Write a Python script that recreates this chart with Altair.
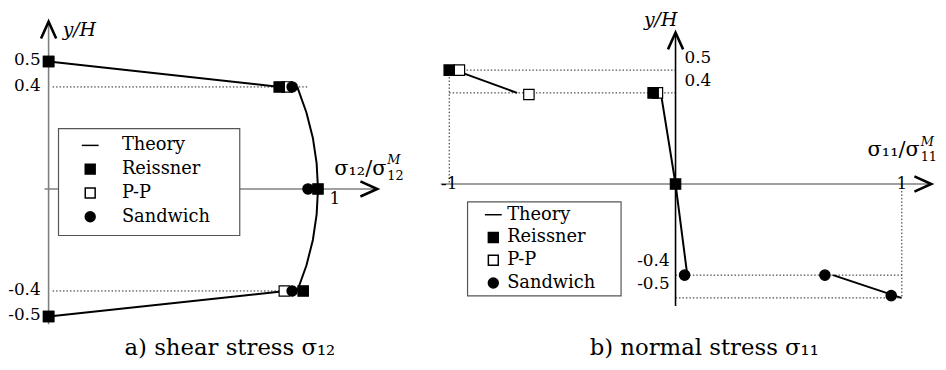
import altair as alt
import pandas as pd

FONT = "DejaVu Serif"

# ---------------- shared legend categories ----------------
methods = ["Theory", "Reissner", "P-P", "Sandwich"]
shape_range = ["M -1.7 0 L 1.7 0", "square", "square", "circle"]
fill_range = ["black", "black", "white", "black"]
stroke_range = ["black", "black", "black", "black"]

# ---------------- a) shear stress ----------------
a_theory_seg = ["top", "top",
                "core", "core", "core", "core", "core", "core", "core", "core", "core",
                "bottom", "bottom"]
a_theory_x = [0.0, 0.86, 0.923, 0.957, 0.981, 0.995, 1.0, 0.995, 0.981, 0.957, 0.923, 0.88, 0.0]
a_theory_y = [0.5, 0.4, 0.4, 0.3, 0.2, 0.1, 0.0, -0.1, -0.2, -0.3, -0.4, -0.4, -0.5]

a_pts_method = ["P-P", "P-P", "P-P", "P-P",
                "Reissner", "Reissner", "Reissner", "Reissner", "Reissner",
                "Sandwich", "Sandwich", "Sandwich"]
a_pts_x = [0.0, 0.885, 0.875, 0.0,
           0.0, 0.856, 1.0, 0.945, 0.0,
           0.904, 0.963, 0.904]
a_pts_y = [0.5, 0.4, -0.4, -0.5,
           0.5, 0.4, 0.0, -0.4, -0.5,
           0.4, 0.0, -0.4]

a_guide_x1 = [0.015, 0.015]
a_guide_x2 = [0.96, 0.9]
a_guide_y1 = [0.4, -0.4]
a_guide_y2 = [0.4, -0.4]

a_ytick_vals = [0.5, 0.4, -0.4, -0.5]
a_ytick_text = ["0.5", "0.4", "-0.4", "-0.5"]
a_xtick_vals = [1.0]
a_xtick_text = ["1"]

a_xaxis = [-0.015, 1.21]
a_yaxis = [-0.53, 0.645]
a_arrow_x_tip = 1.22
a_arrow_y_tip = 0.656

# ---------------- b) normal stress ----------------
b_theory_seg = ["top", "top", "core", "core", "core", "bottom", "bottom"]
b_theory_x = [-0.976, -0.70, -0.065, 0.0, 0.052, 0.696, 0.998]
b_theory_y = [0.5, 0.4, 0.4, 0.0, -0.4, -0.4, -0.5]

b_pts_method = ["P-P", "P-P", "P-P",
                "Reissner", "Reissner", "Reissner",
                "Sandwich", "Sandwich", "Sandwich"]
b_pts_x = [-0.955, -0.648, -0.08,
           -1.0, -0.099, 0.0,
           0.04, 0.66, 0.953]
b_pts_y = [0.5, 0.393, 0.4,
           0.5, 0.4, 0.0,
           -0.4, -0.4, -0.49]

b_guide_x1 = [-1.0, -1.0, 0.0, 0.0, -1.0, 1.0]
b_guide_x2 = [0.0, 0.0, 1.0, 1.0, -1.0, 1.0]
b_guide_y1 = [0.5, 0.4, -0.4, -0.5, 0.5, 0.0]
b_guide_y2 = [0.5, 0.4, -0.4, -0.5, 0.0, -0.5]

b_ytick_up_vals = [0.5, 0.4]
b_ytick_up_text = ["0.5", "0.4"]
b_ytick_dn_vals = [-0.4, -0.5]
b_ytick_dn_text = ["-0.4", "-0.5"]
b_xtick_vals = [-1.0, 1.0]
b_xtick_text = ["-1", "1"]

b_xaxis = [-1.037, 1.12]
b_yaxis = [-0.535, 0.655]
b_arrow_x_tip = 1.13
b_arrow_y_tip = 0.665

ARROW_RIGHT = "M -1 -0.45 L 0 0 L -1 0.45"
ARROW_UP = "M -0.45 1 L 0 0 L 0.45 1"


def make_legend(lx, ly, pad, sym_off, lab_off, row_pad):
    return alt.Legend(
        orient="none", legendX=lx, legendY=ly, title=None, padding=pad,
        symbolOffset=sym_off, labelOffset=lab_off, rowPadding=row_pad,
        labelFont=FONT, labelFontSize=18, labelColor="black",
        symbolSize=100, symbolStrokeColor="black", symbolStrokeWidth=1.5,
    )


def build_panel(W, H, xdom, ydom, theory, pts, guides, xaxis, yaxis, ycol,
                arrow_x, arrow_y, legend, box, texts, caption, cap_x):
    xs = alt.Scale(domain=xdom, nice=False, zero=False)
    ys = alt.Scale(domain=ydom, nice=False, zero=False)

    def X(f):
        return alt.X(f, type="quantitative", scale=xs, axis=None)

    def Y(f):
        return alt.Y(f, type="quantitative", scale=ys, axis=None)

    one = pd.DataFrame({"k": [0]})
    layers = []
    # dotted guides
    layers.append(alt.Chart(guides).mark_rule(color="#222222", strokeWidth=1, strokeDash=[1.5, 2]).encode(
        x=X("x1"), x2="x2", y=Y("y1"), y2="y2"))
    # axes
    ax_df = pd.DataFrame({"x1": [xaxis[0]], "x2": [xaxis[1]], "y1": [0.0], "y2": [0.0]})
    layers.append(alt.Chart(ax_df).mark_rule(color="#808080", strokeWidth=1.6).encode(
        x=X("x1"), x2="x2", y=Y("y1"), y2="y2"))
    ay_df = pd.DataFrame({"x1": [0.0], "x2": [0.0], "y1": [yaxis[0]], "y2": [yaxis[1]]})
    layers.append(alt.Chart(ay_df).mark_rule(color=ycol, strokeWidth=1.6).encode(
        x=X("x1"), x2="x2", y=Y("y1"), y2="y2"))
    # legend frame (white box covering the axis)
    layers.append(alt.Chart(one).mark_rect(fill="white", stroke="#555555", strokeWidth=1.2).encode(
        x=alt.value(box[0]), x2=alt.value(box[1]), y=alt.value(box[2]), y2=alt.value(box[3])))
    # arrow heads
    layers.append(alt.Chart(pd.DataFrame({"x": [arrow_x], "y": [0.0]})).mark_point(
        shape=ARROW_RIGHT, filled=False, stroke="black", strokeWidth=2.6, size=1156, opacity=1,
        strokeJoin="miter").encode(x=X("x"), y=Y("y")))
    layers.append(alt.Chart(pd.DataFrame({"x": [0.0], "y": [arrow_y]})).mark_point(
        shape=ARROW_UP, filled=False, stroke="black", strokeWidth=2.6, size=1156, opacity=1,
        strokeJoin="miter").encode(x=X("x"), y=Y("y")))
    # theory lines
    layers.append(alt.Chart(theory).mark_line(color="black", strokeWidth=2).encode(
        x=X("x"), y=Y("y"), detail="seg:N", order="ord:Q"))
    # markers
    layers.append(alt.Chart(pts).mark_point(filled=True, stroke="black", strokeWidth=1.2,
                                            size=110, opacity=1).encode(
        x=X("x"), y=Y("y"),
        shape=alt.Shape("method:N", scale=alt.Scale(domain=methods, range=shape_range), legend=legend),
        fill=alt.Fill("method:N", scale=alt.Scale(domain=methods, range=fill_range), legend=legend),
        stroke=alt.Stroke("method:N", scale=alt.Scale(domain=methods, range=stroke_range), legend=legend),
        order="ord:Q"))
    # text annotations
    for df, kw in texts:
        layers.append(alt.Chart(df).mark_text(font=FONT, color="black", **kw).encode(
            x=X("x"), y=Y("y"), text="t:N"))
    # caption
    layers.append(alt.Chart(pd.DataFrame({"t": [caption]})).mark_text(
        font=FONT, fontSize=23, color="black", align="center", baseline="alphabetic").encode(
        x=alt.value(cap_x), y=alt.value(H - 7), text="t:N"))
    return alt.layer(*layers).properties(width=W, height=H)


def tdf(xs_, ys_, labels):
    return pd.DataFrame({"x": xs_, "y": ys_, "t": labels})


# ---- panel a data frames
a_theory = pd.DataFrame({"x": a_theory_x, "y": a_theory_y, "seg": a_theory_seg,
                         "ord": list(range(len(a_theory_x)))})
a_pts = pd.DataFrame({"x": a_pts_x, "y": a_pts_y, "method": a_pts_method,
                      "ord": list(range(len(a_pts_x)))})
a_guides = pd.DataFrame({"x1": a_guide_x1, "x2": a_guide_x2, "y1": a_guide_y1, "y2": a_guide_y2})

a_texts = [
    (tdf([0.0] * 4, a_ytick_vals, a_ytick_text),
     dict(fontSize=17, align="right", baseline="middle", dx=-8, dy=-1)),
    (tdf(a_xtick_vals, [0.0], a_xtick_text),
     dict(fontSize=17, align="center", baseline="middle", dx=17, dy=10)),
    (tdf([0.0], [0.0], ["y/H"]),
     dict(fontSize=19, fontStyle="italic", align="center", baseline="middle", dx=31, dy=-160)),
    (tdf([1.0], [0.0], ["σ₁₂/σ"]),
     dict(fontSize=21, align="right", baseline="middle", dx=69, dy=-20)),
    (tdf([1.0], [0.0], ["M"]),
     dict(fontSize=13, fontStyle="italic", align="left", baseline="middle", dx=70, dy=-29)),
    (tdf([1.0], [0.0], ["12"]),
     dict(fontSize=13, align="left", baseline="middle", dx=70, dy=-13)),
]

panel_a = build_panel(
    412, 354, [-0.1507, 1.364], [-0.6796, 0.6951],
    a_theory, a_pts, a_guides, a_xaxis, a_yaxis, "#808080",
    a_arrow_x_tip, a_arrow_y_tip,
    make_legend(51, 118, 8, 15, 23, 6), (51, 234, 118, 226),
    a_texts, "a) shear stress σ₁₂", 224)

# ---- panel b data frames
b_theory = pd.DataFrame({"x": b_theory_x, "y": b_theory_y, "seg": b_theory_seg,
                         "ord": list(range(len(b_theory_x)))})
b_pts = pd.DataFrame({"x": b_pts_x, "y": b_pts_y, "method": b_pts_method,
                      "ord": list(range(len(b_pts_x)))})
b_guides = pd.DataFrame({"x1": b_guide_x1, "x2": b_guide_x2, "y1": b_guide_y1, "y2": b_guide_y2})

b_texts = [
    (tdf([0.0] * 2, b_ytick_up_vals, b_ytick_up_text),
     dict(fontSize=17, align="left", baseline="middle", dx=9, dy=-12)),
    (tdf([0.0] * 2, b_ytick_dn_vals, b_ytick_dn_text),
     dict(fontSize=17, align="right", baseline="middle", dx=-6, dy=-14)),
    (tdf(b_xtick_vals, [0.0, 0.0], b_xtick_text),
     dict(fontSize=17, align="center", baseline="middle", dx=0, dy=0)),
    (tdf([0.0], [0.0], ["y/H"]),
     dict(fontSize=19, fontStyle="italic", align="center", baseline="middle", dx=-15, dy=-166)),
    (tdf([1.0], [0.0], ["σ₁₁/σ"]),
     dict(fontSize=21, align="right", baseline="middle", dx=18, dy=-34)),
    (tdf([1.0], [0.0], ["M"]),
     dict(fontSize=13, fontStyle="italic", align="left", baseline="middle", dx=19, dy=-42)),
    (tdf([1.0], [0.0], ["11"]),
     dict(fontSize=13, align="left", baseline="middle", dx=19, dy=-27)),
]

panel_b = build_panel(
    518, 354, [-1.1466, 1.1204], [-0.7826, 0.7565],
    b_theory, b_pts, b_guides, b_xaxis, b_yaxis, "black",
    b_arrow_x_tip, b_arrow_y_tip,
    make_legend(52, 192, 4, 13, 5, 5), (52, 207, 192, 287),
    b_texts, "b) normal stress σ₁₁", 291)

chart = (
    alt.hconcat(panel_a, panel_b, spacing=0)
    .resolve_scale(shape="independent", fill="independent", stroke="independent")
    .resolve_legend(shape="independent", fill="independent", stroke="independent")
    .properties(padding=0)
    .configure_view(strokeWidth=0)
)

chart.save("out.html", embed_options={"renderer": "svg", "actions": False})
